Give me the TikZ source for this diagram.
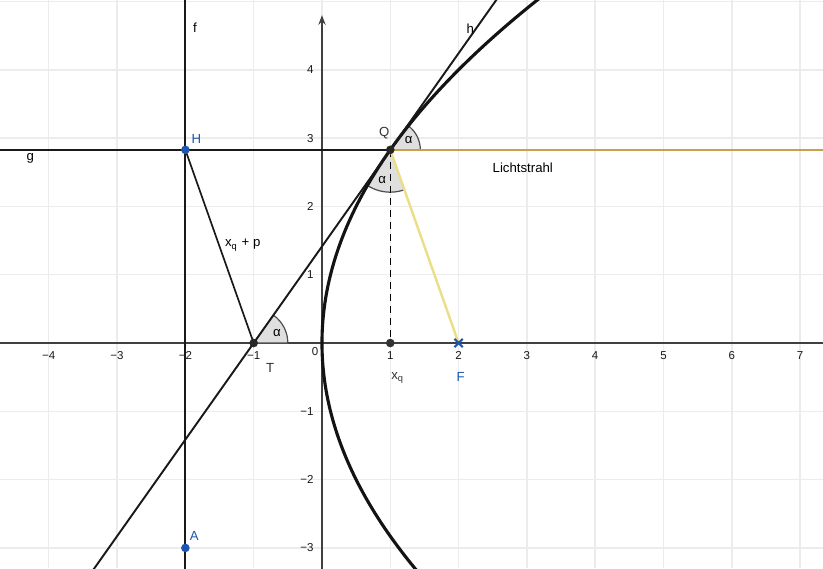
\documentclass[tikz,border=0pt]{standalone}
\usepackage{fontspec}
\setmainfont{Liberation Sans}
\usetikzlibrary{arrows.meta,calc}
\definecolor{ggblue}{RGB}{30,85,175}
\definecolor{strahl}{RGB}{200,160,80}
\definecolor{reflex}{RGB}{235,222,135}

\begin{document}
\begin{tikzpicture}[font=\fontsize{5.5}{6.5}\selectfont,>=Latex,
  dot/.style={circle,fill=#1,inner sep=0pt,minimum size=3.6pt},
  tick/.style={font=\fontsize{4.8}{5.5}\selectfont,text=gray!20!black},
  angfill/.style={fill=gray!25,draw=gray!60!black,line width=0.5pt},
  geo/.style={gray!20!black,line width=0.8pt}]
  \useasboundingbox (-4.714,-3.294) rectangle (7.335,5.022);
  \clip (-4.714,-3.294) rectangle (7.335,5.022);
  % grid
  \draw[gray!15,line width=0.6pt] (-4.714,-3.294) grid (7.335,5.022);
  % axes
  \draw[gray!50!black,line width=0.7pt] (-4.8,0) -- (7.4,0);
  \draw[gray!50!black,line width=0.7pt,-{Stealth[length=4pt,width=3pt]}] (0,-3.4) -- (0,4.8);
  \foreach \x/\s in {-4/−4,-3/−3,-2/−2,-1/−1,1/1,2/2,3/3,4/4,5/5,6/6,7/7}
    \node[tick,below=0pt] at (\x,0) {\s};
  \node[tick] at (-0.1,-0.13) {0};
  \foreach \y/\s in {-3/−3,-2/−2,-1/−1,1/1,2/2,3/3,4/4}
    \node[tick,left=0pt] at (0,\y) {\s};
  % points
  \coordinate (Q) at (1,2.828);
  \coordinate (T) at (-1,0);
  \coordinate (H) at (-2,2.828);
  \coordinate (A) at (-2,-3);
  \coordinate (F) at (2,0);
  \coordinate (X) at (1,0);
  % angles
  \filldraw[angfill] (T) -- ++(0:0.5) arc[start angle=0,end angle=54.74,radius=0.5] -- cycle;
  \filldraw[angfill] (Q) -- ++(0:0.44) arc[start angle=0,end angle=54.74,radius=0.44] -- cycle;
  \filldraw[angfill] (Q) -- ++(234.74:0.62) arc[start angle=234.74,end angle=289.47,radius=0.62] -- cycle;
  % parabola y^2 = 8x
  \draw[gray!15!black,line width=1.3pt] plot[domain=-3.4:5.2,samples=100,smooth] ({\x*\x/8},\x);
  % lines f, g, h
  \draw[geo] (-2,-3.4) -- (-2,5.1);
  \draw[geo] (-4.8,2.828) -- (Q);
  \draw[geo] ($(T)!-1.2!(Q)$) -- ($(T)!1.85!(Q)$);
  \draw[geo,line width=0.7pt] (H) -- (T);
  \draw[black,dash pattern=on 3pt off 2pt,line width=0.6pt] (Q) -- (X);
  % light ray
  \draw[strahl,line width=1pt] (Q) -- (7.4,2.828);
  \draw[reflex,line width=1pt] (Q) -- (F);
  % labels
  \node at (-1.86,4.61) {f};
  \node at (2.17,4.6) {h};
  \node at (-4.27,2.71) {g};
  \node at (2.94,2.56) {Lichtstrahl};
  \node at (-1.16,1.43) {x\textsubscript{q} + p};
  \node at (-0.66,0.15) {α};
  \node at (1.27,2.97) {α};
  \node at (0.88,2.39) {α};
  \node[text=gray!40!black] at (0.91,3.07) {Q};
  \node[text=gray!40!black] at (-0.76,-0.37) {T};
  \node[text=gray!40!black] at (1.11,-0.51) {x\textsubscript{q}};
  \node[text=ggblue] at (-1.84,2.99) {H};
  \node[text=ggblue] at (2.03,-0.5) {F};
  \node[text=ggblue] at (-1.87,-2.83) {A};
  % dots
  \node[dot=ggblue] (h) at (H) {};
  \node[dot=ggblue] (a) at (A) {};
  \node[dot=gray!30!black] (t) at (T) {};
  \node[dot=gray!30!black] (q) at (Q) {};
  \node[dot=gray!40!black] (x) at (X) {};
  \draw[ggblue,line width=0.9pt] ($(F)+(-0.06,-0.06)$) -- ($(F)+(0.06,0.06)$)
    ($(F)+(-0.06,0.06)$) -- ($(F)+(0.06,-0.06)$);
\end{tikzpicture}
\end{document}
